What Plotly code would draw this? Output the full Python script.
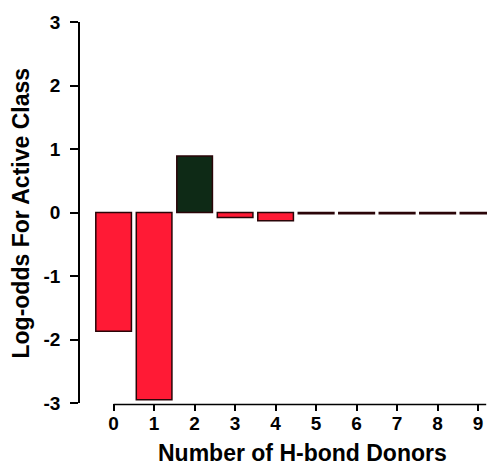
import plotly.graph_objects as go

# Log-odds of the active class per number of H-bond donors
donors = [0, 1, 2, 3, 4, 5, 6, 7, 8, 9]
log_odds = [-1.87, -2.95, 0.89, -0.08, -0.13, -0.02, -0.02, -0.02, -0.02, -0.02]
tick_labels = [str(d) for d in donors]
y_ticks = [-3, -2, -1, 0, 1, 2, 3]
y_tick_labels = ["-3", "-2", "-1", "0", "1", "2", "3"]

RED = "#ff1a35"
DARK = "#0e2a16"
bar_colors = [DARK if v > 0 else RED for v in log_odds]

FONT = "Liberation Sans, Arial, sans-serif"

fig = go.Figure(
    go.Bar(
        x=donors,
        y=log_odds,
        width=0.88,
        marker=dict(color=bar_colors, line=dict(color="#2a0508", width=1.5)),
    )
)

fig.update_layout(
    width=487,
    height=466,
    margin=dict(l=80, r=0, t=22, b=63),
    plot_bgcolor="white",
    paper_bgcolor="white",
    showlegend=False,
    font=dict(family=FONT, size=19, color="black"),
    xaxis=dict(
        range=[-0.83, 9.22],
        tickmode="array",
        tickvals=donors,
        ticktext=tick_labels,
        showline=False,
        showgrid=False,
        zeroline=False,
        ticks="outside",
        ticklen=7,
        tickwidth=1.5,
        tickcolor="black",
        ticklabelstandoff=-4,
        tickfont=dict(family=FONT, size=19, color="black", weight="bold"),
    ),
    yaxis=dict(
        range=[-3, 3],
        tickmode="array",
        tickvals=y_ticks,
        ticktext=y_tick_labels,
        showline=True,
        linecolor="black",
        linewidth=1.5,
        showgrid=False,
        zeroline=False,
        ticks="outside",
        ticklen=8,
        tickwidth=1.5,
        tickcolor="black",
        ticklabelstandoff=6,
        tickfont=dict(family=FONT, size=19, color="black", weight="bold"),
    ),
    shapes=[
        # x-axis baseline spanning the donor counts only
        dict(type="line", xref="x", yref="paper", x0=0, x1=9.2, y0=-0.004, y1=-0.004,
             line=dict(color="black", width=1.5)),
    ],
    annotations=[
        dict(text="<b>Number of H-bond Donors</b>", xref="paper", yref="paper",
             x=0.546, y=-0.13, xanchor="center", yanchor="middle",
             showarrow=False, font=dict(family=FONT, size=23, color="black")),
        dict(text="<b>Log-odds For Active Class</b>", xref="paper", yref="paper",
             x=-0.145, y=0.5, xanchor="center", yanchor="middle", textangle=-90,
             showarrow=False, font=dict(family=FONT, size=23, color="black")),
    ],
)

fig.write_html("out.html")
